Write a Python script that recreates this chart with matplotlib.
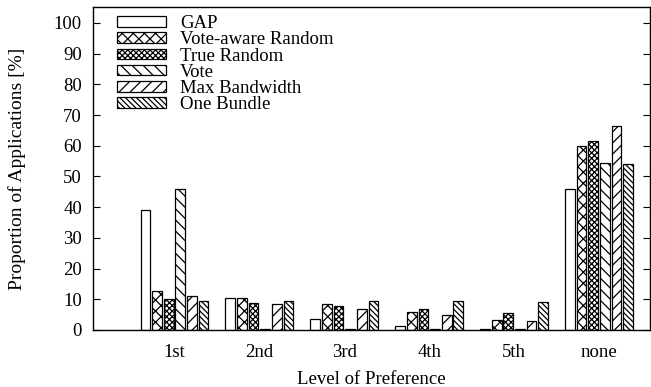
import numpy as np
import matplotlib.pyplot as plt

plt.rcParams['font.family'] = ['Liberation Serif', 'DejaVu Serif']
plt.rcParams['hatch.linewidth'] = 0.9

levels = ['1st', '2nd', '3rd', '4th', '5th', 'none']
series = ['GAP', 'Vote-aware Random', 'True Random', 'Vote', 'Max Bandwidth', 'One Bundle']

gap = [39.0, 10.4, 3.6, 1.3, 0.2, 45.8]
vote_aware = [12.7, 10.5, 8.4, 5.9, 3.2, 59.9]
true_random = [10.1, 8.7, 7.8, 6.8, 5.6, 61.6]
vote = [45.8, 0.4, 0.4, 0.4, 0.3, 54.3]
max_bw = [11.2, 8.5, 6.8, 4.9, 2.9, 66.4]
one_bundle = [9.3, 9.4, 9.3, 9.3, 9.2, 54.1]

values = [gap, vote_aware, true_random, vote, max_bw, one_bundle]
hatches = ['', 'xxx', 'xxxxxx', '\\\\\\', '///', '\\\\\\\\\\\\']

fig = plt.figure(figsize=(6.51, 3.87), dpi=100)
ax = fig.add_axes([93/651, 57/387, 557/651, 323/387])

x = np.arange(1, len(levels) + 1)
step = 0.137
width = 0.115
for i, (name, vals) in enumerate(zip(series, values)):
    ax.bar(x + (i - 2.5) * step, vals, width, label=name, color='white',
           edgecolor='black', linewidth=0.9, hatch=hatches[i])

ax.set_xlim(0.04, 6.6)
ax.set_ylim(0, 105.2)
ax.set_xticks(x)
ax.set_xticklabels(levels)
ax.set_yticks(np.arange(0, 101, 10))
ax.tick_params(axis='x', length=0, labelsize=13.5, pad=10)
ax.tick_params(axis='y', direction='in', right=True, length=5, labelsize=13.5, pad=8)
for s in ax.spines.values():
    s.set_linewidth(1.0)

ax.set_xlabel('Level of Preference', fontsize=13.5, labelpad=7)
ax.set_ylabel('Proportion of Applications [%]', fontsize=14, labelpad=20)

ax.legend(loc='upper left', bbox_to_anchor=(0.022, 1.01), frameon=False,
          fontsize=13.5, handlelength=2.65, handleheight=0.5, labelspacing=-0.04,
          handletextpad=0.75, borderaxespad=0.2)

fig.savefig('out.png', dpi=100)
